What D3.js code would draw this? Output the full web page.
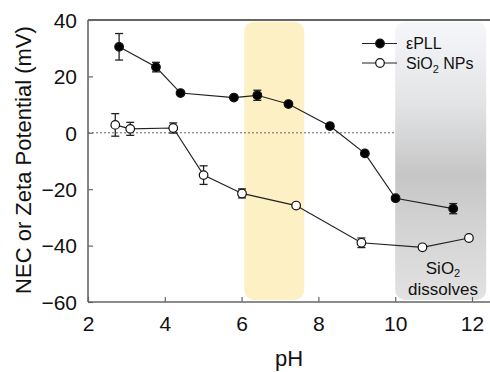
<!DOCTYPE html>
<html><head><meta charset="utf-8">
<script src="https://cdn.jsdelivr.net/npm/d3@7"></script>
<style>
html,body{margin:0;padding:0;background:#fff;}
svg{display:block;font-family:"Liberation Sans",Arial,sans-serif;}
</style></head>
<body>
<svg id="chart" width="490" height="372"></svg>
<script>
// ---- data ----
const plPH   = [2.81, 3.77, 4.41, 5.80, 6.41, 7.22, 8.30, 9.21, 10.01, 11.51];
const plVal  = [30.5, 23.3, 14.1, 12.5, 13.3, 10.2, 2.4, -7.3, -23.2, -26.9];
const plErr  = [4.7, 1.7, 0, 0, 1.8, 0, 0, 0, 0, 1.8];
const siPH   = [2.71, 3.10, 4.22, 5.01, 6.01, 7.42, 9.12, 10.71, 11.92];
const siVal  = [2.8, 1.4, 1.7, -15.0, -21.5, -25.8, -39.0, -40.6, -37.3];
const siErr  = [4.0, 2.3, 1.8, 3.3, 1.6, 0, 1.7, 0, 0];
const xTicks = [2, 4, 6, 8, 10, 12];
const yTicks = [-60, -40, -20, 0, 20, 40];
const seriesNames = ["εPLL", "SiO2 NPs"];
const yellowBand = [6.07, 7.63];
const grayBand = [10.0, 12.37];

// ---- layout ----
const svg = d3.select("#chart");
const pL = 88, pR = 490, pT = 20, pB = 302;
const x = d3.scaleLinear().domain([2, 12]).range([pL, 472]);
const y = d3.scaleLinear().domain([-60, 40]).range([pB, pT]);
const R = 4.3;

const defs = svg.append("defs");
const grad = defs.append("linearGradient").attr("id","gg").attr("x1",0).attr("y1",0).attr("x2",0).attr("y2",1);
[[0,"#f6f7fa"],[0.3,"#e2e3e5"],[0.55,"#c6c6c6"],[0.72,"#d2d2d2"],[1,"#e2e2e2"]].forEach(([o,c])=>
  grad.append("stop").attr("offset",o).attr("stop-color",c));

// bands
svg.append("rect").attr("x", x(yellowBand[0])).attr("width", x(yellowBand[1]) - x(yellowBand[0]))
  .attr("y", y(39.4)).attr("height", y(-59.3) - y(39.4)).attr("rx", 10)
  .attr("fill", "#fdf0c4");
svg.append("rect").attr("x", x(grayBand[0])).attr("width", x(grayBand[1]) - x(grayBand[0]))
  .attr("y", y(39.4)).attr("height", y(-59.3) - y(39.4)).attr("rx", 10)
  .attr("fill", "url(#gg)");

// dotted zero line
svg.append("line").attr("x1", pL).attr("x2", x(10)).attr("y1", y(0)).attr("y2", y(0))
  .attr("stroke", "#666").attr("stroke-width", 1).attr("stroke-dasharray", "2,2");

// axes
const axCol = "#666";
const xAxis = svg.append("g").attr("transform", `translate(0,${pB})`)
  .call(d3.axisBottom(x).tickValues(xTicks).tickSizeInner(-5).tickSizeOuter(0).tickPadding(14));
const yAxis = svg.append("g").attr("transform", `translate(${pL},0)`)
  .call(d3.axisLeft(y).tickValues(yTicks).tickSizeInner(-5).tickSizeOuter(0).tickPadding(11));
[xAxis, yAxis].forEach(g => {
  g.select(".domain").remove();
  g.selectAll(".tick line").attr("stroke", axCol).attr("stroke-width", 1.2);
  g.selectAll(".tick text").attr("font-size", 21).attr("fill", "#111")
    .attr("font-family", '"Liberation Sans",Arial,sans-serif');
});
xAxis.selectAll(".tick text").attr("dy", "0.71em");
yAxis.selectAll(".tick text").attr("dy", "0.35em");
// frame lines
svg.append("line").attr("x1", pL).attr("x2", pR).attr("y1", pB).attr("y2", pB).attr("stroke", axCol).attr("stroke-width", 1.6);
svg.append("line").attr("x1", pL).attr("x2", pL).attr("y1", pT).attr("y2", pB).attr("stroke", axCol).attr("stroke-width", 1.6);
svg.append("line").attr("x1", pL).attr("x2", pR).attr("y1", pT).attr("y2", pT).attr("stroke", axCol).attr("stroke-width", 1.8);

// axis titles
svg.append("text").attr("x", 289).attr("y", 366).attr("text-anchor", "middle")
  .attr("font-size", 22).attr("fill", "#111").text("pH");
svg.append("text").attr("transform", "translate(31,160) rotate(-90)").attr("text-anchor", "middle")
  .attr("font-size", 22).attr("fill", "#111").text("NEC or Zeta Potential (mV)");

// series
function drawSeries(xs, ys, es, filled) {
  const pts = xs.map((v, i) => ({x: v, y: ys[i], e: es[i]}));
  svg.append("path").datum(pts)
    .attr("d", d3.line().x(d => x(d.x)).y(d => y(d.y)))
    .attr("fill", "none").attr("stroke", "#222").attr("stroke-width", 1.2);
  const eb = svg.append("g").selectAll("g").data(pts.filter(d => d.e > 0)).join("g")
    .attr("stroke", "#222").attr("stroke-width", 1.3);
  eb.append("line").attr("x1", d => x(d.x)).attr("x2", d => x(d.x))
    .attr("y1", d => y(d.y + d.e)).attr("y2", d => y(d.y - d.e));
  eb.append("line").attr("x1", d => x(d.x) - 4).attr("x2", d => x(d.x) + 4)
    .attr("y1", d => y(d.y + d.e)).attr("y2", d => y(d.y + d.e));
  eb.append("line").attr("x1", d => x(d.x) - 4).attr("x2", d => x(d.x) + 4)
    .attr("y1", d => y(d.y - d.e)).attr("y2", d => y(d.y - d.e));
  svg.append("g").selectAll("circle").data(pts).join("circle")
    .attr("cx", d => x(d.x)).attr("cy", d => y(d.y)).attr("r", R)
    .attr("fill", filled ? "#000" : "#fff").attr("stroke", "#111").attr("stroke-width", 1.2);
}
drawSeries(plPH, plVal, plErr, true);
drawSeries(siPH, siVal, siErr, false);

// legend
const lg = svg.append("g");
[0, 1].forEach(i => {
  const ly = 43.5 + i * 19.5;
  lg.append("line").attr("x1", 362).attr("x2", 397).attr("y1", ly).attr("y2", ly)
    .attr("stroke", "#222").attr("stroke-width", 1.2);
  lg.append("circle").attr("cx", 380).attr("cy", ly).attr("r", R)
    .attr("fill", i === 0 ? "#000" : "#fff").attr("stroke", "#111").attr("stroke-width", 1.2);
  const t = lg.append("text").attr("x", 406).attr("y", ly + 5.5).attr("font-size", 16).attr("fill", "#111");
  if (i === 0) t.text(seriesNames[0]);
  else {
    t.append("tspan").text("SiO");
    t.append("tspan").attr("font-size", 11).attr("dy", 4).text("2");
    t.append("tspan").attr("dy", -4).text(" NPs");
  }
});

// annotation
const a1 = svg.append("text").attr("x", 443).attr("y", 274).attr("text-anchor", "middle").attr("font-size", 17).attr("fill", "#111");
a1.append("tspan").text("SiO");
a1.append("tspan").attr("font-size", 11).attr("dy", 3).text("2");
svg.append("text").attr("x", 443).attr("y", 295).attr("text-anchor", "middle").attr("font-size", 17).attr("fill", "#111").text("dissolves");
</script>
</body></html>
